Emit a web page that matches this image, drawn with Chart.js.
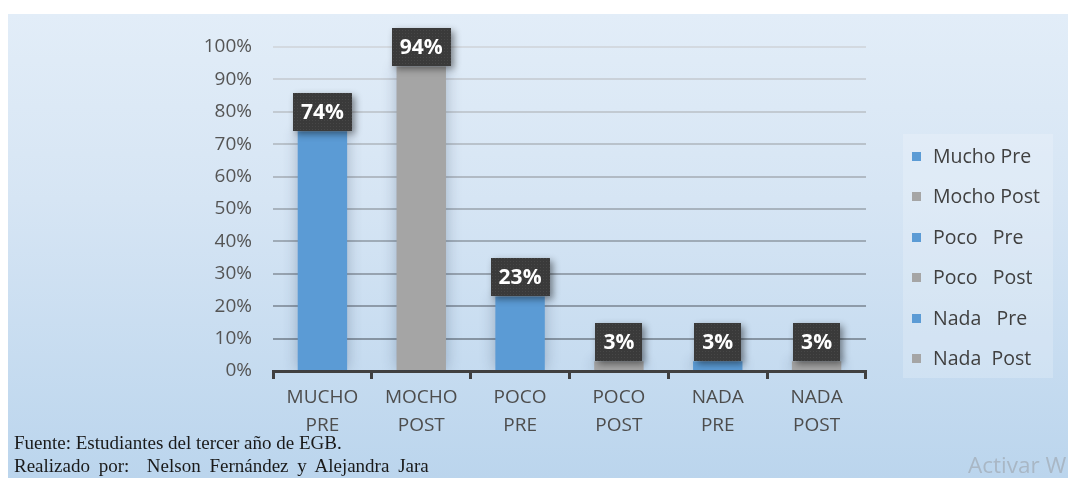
<!DOCTYPE html>
<html>
<head>
<meta charset="utf-8">
<script src="https://cdn.jsdelivr.net/npm/chart.js@4.4.1/dist/chart.umd.min.js"></script>
<style>
  html, body { margin: 0; padding: 0; background: #fff; width: 1068px; height: 478px; overflow: hidden; }
  #panel { position: absolute; left: 8px; top: 14px; width: 1060px; height: 464px;
           background: linear-gradient(to bottom, #e2edf8 0%, #d6e5f4 40%, #bbd5ed 100%); }
  #wrap { position: absolute; left: 0; top: 0; width: 1068px; height: 478px; }
  #legend { position: absolute; left: 903px; top: 134px; width: 150px; height: 244px;
            background: rgba(255,255,255,0.2); font-family: 'Open Sans', sans-serif;
            font-size: 19.5px; color: #404040; }
  .row { position: absolute; left: 0; height: 26px; line-height: 26px; white-space: pre; }
  .sw { position: absolute; left: 9px; top: 9px; width: 9px; height: 9px; }
  .lbl { position: absolute; left: 30px; top: 0; }
  .foot { position: absolute; left: 14px; font-family: 'Liberation Serif', serif; font-size: 19px;
          line-height: 19px; color: #1a1a1a; white-space: pre; }
  #f2 { word-spacing: 4px; }
  #wm { position: absolute; left: 968px; top: 449px; font-family: 'Open Sans', sans-serif;
        font-size: 22.5px; color: #a9b7c5; white-space: pre; }
</style>
</head>
<body>
<div id="panel"></div>
<div id="wrap"><canvas id="chart" width="1068" height="478"></canvas></div>
<div id="legend"></div>
<div class="foot" id="f1" style="top:433px;"></div>
<div class="foot" id="f2" style="top:456px;"></div>
<div id="wm">Activar Windows</div>
<script>
// Categories (two-line axis labels) and the share of students in each group
const categories = [['MUCHO', 'PRE'], ['MOCHO', 'POST'], ['POCO', 'PRE'], ['POCO', 'POST'], ['NADA', 'PRE'], ['NADA', 'POST']];
const shares = [0.74, 0.94, 0.23, 0.03, 0.03, 0.03];
const legendNames = ['Mucho Pre', 'Mocho Post', 'Poco   Pre', 'Poco   Post', 'Nada   Pre', 'Nada  Post'];
const yTickValues = [0, 0.1, 0.2, 0.3, 0.4, 0.5, 0.6, 0.7, 0.8, 0.9, 1.0];
const footLines = ['Fuente: Estudiantes del tercer año de EGB.', 'Realizado por:  Nelson Fernández y Alejandra Jara'];

const BLUE = '#5b9bd5';
const GREY = '#a5a5a5';
const barColors = categories.map((c, i) => (i % 2 === 0 ? BLUE : GREY));

// Legend
const legendEl = document.getElementById('legend');
legendNames.forEach((name, i) => {
  const row = document.createElement('div');
  row.className = 'row';
  row.style.top = (22 + i * 40.4 - 13) + 'px';
  const sw = document.createElement('div');
  sw.className = 'sw';
  sw.style.background = barColors[i];
  const lb = document.createElement('div');
  lb.className = 'lbl';
  lb.textContent = name;
  row.appendChild(sw);
  row.appendChild(lb);
  legendEl.appendChild(row);
});
document.getElementById('f1').textContent = footLines[0];
document.getElementById('f2').textContent = footLines[1];

// Dotted texture for the value boxes
const tex = document.createElement('canvas');
tex.width = 3; tex.height = 3;
const tctx = tex.getContext('2d');
tctx.fillStyle = '#3a3a3a'; tctx.fillRect(0, 0, 3, 3);
tctx.fillStyle = '#474747'; tctx.fillRect(0, 0, 1, 1);
const ctxMain = document.getElementById('chart').getContext('2d');
const texPattern = ctxMain.createPattern(tex, 'repeat');

function mix(a, b, t) {
  const pa = [1, 3, 5].map(k => parseInt(a.substr(k, 2), 16));
  const pb = [1, 3, 5].map(k => parseInt(b.substr(k, 2), 16));
  return 'rgb(' + pa.map((v, k) => Math.round(v + (pb[k] - v) * t)).join(',') + ')';
}

// Soft shadow behind the bars
const barShadow = {
  id: 'barShadow',
  beforeDatasetDraw(chart) {
    const c = chart.ctx;
    c.save();
    c.shadowColor = 'rgba(40,60,90,0.32)';
    c.shadowBlur = 14;
    c.shadowOffsetX = 0;
    c.shadowOffsetY = 0;
  },
  afterDatasetDraw(chart) { chart.ctx.restore(); }
};

// Dark value boxes sitting on top of each bar
const valueBoxes = {
  id: 'valueBoxes',
  afterDatasetsDraw(chart) {
    const c = chart.ctx;
    const meta = chart.getDatasetMeta(0);
    c.save();
    c.font = 'bold 21px "Open Sans"';
    meta.data.forEach((bar, i) => {
      const txt = Math.round(shares[i] * 100) + '%';
      const w = Math.round(c.measureText(txt).width + 16);
      const h = 38;
      const x = Math.round(bar.x - w / 2);
      const y = Math.round(bar.y - h);
      c.save();
      c.shadowColor = 'rgba(0,0,0,0.45)';
      c.shadowBlur = 7;
      c.shadowOffsetX = 3;
      c.shadowOffsetY = 3;
      c.fillStyle = '#3a3a3a';
      c.fillRect(x, y, w, h);
      c.restore();
      c.fillStyle = texPattern;
      c.fillRect(x, y, w, h);
      c.fillStyle = '#ffffff';
      c.textAlign = 'center';
      c.textBaseline = 'middle';
      c.fillText(txt, bar.x, y + h / 2 + 1);
    });
    c.restore();
  }
};

new Chart(ctxMain, {
  type: 'bar',
  data: {
    labels: categories,
    datasets: [{
      data: shares,
      backgroundColor: barColors,
      borderWidth: 0,
      barPercentage: 0.5,
      categoryPercentage: 1.0
    }]
  },
  options: {
    responsive: false,
    animation: false,
    events: [],
    layout: { padding: { left: 0, right: 202, top: 47, bottom: 0 } },
    plugins: { legend: { display: false }, tooltip: { enabled: false } },
    scales: {
      y: {
        min: 0, max: 1,
        afterFit(s) { s.width = 273; },
        afterBuildTicks(s) { s.ticks = yTickValues.map(v => ({ value: v })); },
        border: { display: false },
        grid: {
          drawTicks: false,
          lineWidth: 2,
          color: (ctx) => mix('#d3d9e0', '#7d8c9b', 1 - ctx.tick.value)
        },
        ticks: {
          padding: 21,
          color: '#555555',
          font: { family: 'Open Sans', size: 19 },
          callback: (v) => Math.round(v * 100) + '%'
        }
      },
      x: {
        afterFit(s) { s.height = 107; },
        offset: true,
        border: { display: true, color: '#404040', width: 3 },
        grid: {
          offset: true,
          drawOnChartArea: false,
          drawTicks: true,
          tickLength: 8,
          tickWidth: 3,
          color: '#404040'
        },
        ticks: {
          padding: 5,
          color: '#4d4d4d',
          maxRotation: 0,
          font: { family: 'Open Sans', size: 19, lineHeight: 1.45 }
        }
      }
    }
  },
  plugins: [barShadow, valueBoxes]
});
</script>
</body>
</html>
